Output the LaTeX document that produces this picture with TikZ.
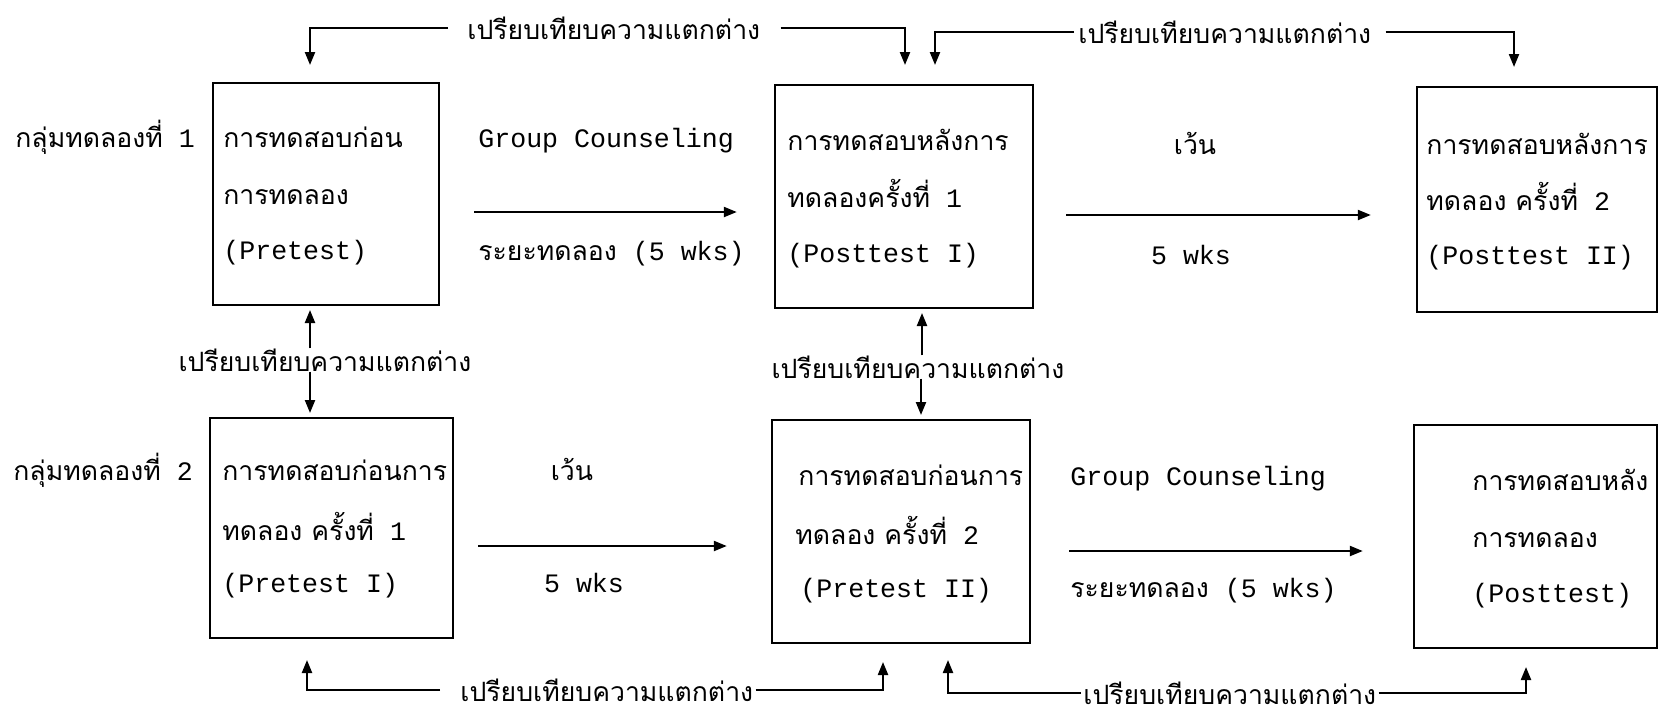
\documentclass[tikz,border=0pt]{standalone}
\usepackage{fontspec}
\setmainfont{Liberation Mono}
\newfontfamily\thaifont[Script=Thai]{Loma}
\usetikzlibrary{arrows.meta}
\newcommand{\T}[1]{{\thaifont #1}}
\begin{document}
\begin{tikzpicture}[x=0.5pt,y=-0.5pt,
  every node/.style={font=\fontsize{13.3pt}{16pt}\selectfont, inner sep=0pt},
  box/.style={draw, line width=1.2pt, rectangle},
  txt/.style={anchor=base west},
  ctxt/.style={anchor=base},
  cmp/.style={anchor=west},
  mid/.style={anchor=center},
  arr/.style={line width=1.1pt, -{Triangle[length=6.5pt,width=5pt]}}]
\useasboundingbox[fill=white] (0,0) rectangle (1659,718);

% boxes
\node[box, minimum width=113pt,   minimum height=111pt]   (A1) at (326,194) {};
\node[box, minimum width=129pt,   minimum height=111.5pt] (B1) at (904,196.5) {};
\node[box, minimum width=120pt,   minimum height=112.5pt] (C1) at (1537,199.5) {};
\node[box, minimum width=121.5pt, minimum height=110pt]   (A2) at (331.5,528) {};
\node[box, minimum width=129pt,   minimum height=111.5pt] (B2) at (901,531.5) {};
\node[box, minimum width=121.5pt, minimum height=111.5pt] (C2) at (1535.5,536.5) {};

% box texts
\node[txt] (A1a) at (223,147) {\T{การทดสอบก่อน}};
\node[txt] (A1b) at (223,204) {\T{การทดลอง}};
\node[txt] (A1c) at (223,259) {(Pretest)};
\node[txt] (B1a) at (787,150) {\T{การทดสอบหลังการ}};
\node[txt] (B1b) at (787,207) {\T{ทดลองครั้งที่} 1};
\node[txt] (B1c) at (787,262) {(Posttest I)};
\node[txt] (C1a) at (1426,154) {\T{การทดสอบหลังการ}};
\node[txt] (C1b) at (1426,210) {\T{ทดลอง ครั้งที่} 2};
\node[txt] (C1c) at (1426,264) {(Posttest II)};
\node[txt] (A2a) at (222,480) {\T{การทดสอบก่อนการ}};
\node[txt] (A2b) at (222,540) {\T{ทดลอง ครั้งที่} 1};
\node[txt] (A2c) at (222,592) {(Pretest I)};
\node[txt] (B2a) at (798,485) {\T{การทดสอบก่อนการ}};
\node[txt] (B2b) at (795,544) {\T{ทดลอง ครั้งที่} 2};
\node[txt] (B2c) at (800,597) {(Pretest II)};
\node[txt] (C2a) at (1472,490) {\T{การทดสอบหลัง}};
\node[txt] (C2b) at (1472,547) {\T{การทดลอง}};
\node[txt] (C2c) at (1472,602) {(Posttest)};

% row labels
\node[txt] (G1) at (15,147) {\T{กลุ่มทดลองที่} 1};
\node[txt] (G2) at (13,480) {\T{กลุ่มทดลองที่} 2};

% labels on horizontal arrows
\node[txt] (L1a) at (478,147) {Group Counseling};
\node[txt] (L1b) at (478,260) {\T{ระยะทดลอง} (5 wks)};
\node[ctxt] (L1c) at (1195,154) {\T{เว้น}};
\node[ctxt] (L1d) at (1191,264) {5 wks};
\node[ctxt] (L2a) at (572,480) {\T{เว้น}};
\node[ctxt] (L2b) at (584,592) {5 wks};
\node[txt] (L2c) at (1070,485) {Group Counseling};
\node[txt] (L2d) at (1070,597) {\T{ระยะทดลอง} (5 wks)};

% horizontal arrows
\coordinate (r1) at (0,212);
\coordinate (r2) at (0,215);
\coordinate (r3) at (0,546);
\coordinate (r4) at (0,551);
\draw[arr, shorten <=17pt, shorten >=18.5pt] (A1.east |- r1) -- (B1.west |- r1);
\draw[arr, shorten <=16pt, shorten >=22.5pt] (B1.east |- r2) -- (C1.west |- r2);
\draw[arr, shorten <=12pt, shorten >=22pt]   (A2.east |- r3) -- (B2.west |- r3);
\draw[arr, shorten <=19pt, shorten >=25pt]   (B2.east |- r4) -- (C2.west |- r4);

% top comparison brackets
\node[cmp] (T1) at (467,28) {\T{เปรียบเทียบความแตกต่าง}};
\node[cmp] (T2) at (1078,32) {\T{เปรียบเทียบความแตกต่าง}};
\coordinate (p1) at (310,65);
\coordinate (p2) at (905,65);
\coordinate (p3) at (935,65);
\coordinate (p4) at (1514,67);
\draw[arr] ([xshift=-9.5pt]T1.west) -| (p1);
\draw[arr] ([xshift=10pt]T1.east) -| (p2);
\draw[arr] ([xshift=-2pt]T2.west) -| (p3);
\draw[arr] ([xshift=7pt]T2.east) -| (p4);

% middle comparisons
\node[mid] (M1) at (325,360) {\T{เปรียบเทียบความแตกต่าง}};
\node[mid] (M2) at (918,367) {\T{เปรียบเทียบความแตกต่าง}};
\coordinate (m1u) at (310,310);
\coordinate (m1d) at (310,413);
\coordinate (m2u) at (922,313);
\coordinate (m2d) at (921,415);
\draw[arr] (M1.north -| m1u) -- (m1u);
\draw[arr] (M1.south -| m1d) -- (m1d);
\draw[arr] (M2.north -| m2u) -- (m2u);
\draw[arr] (M2.south -| m2d) -- (m2d);

% bottom comparison brackets
\node[cmp] (B1t) at (460,690) {\T{เปรียบเทียบความแตกต่าง}};
\node[cmp] (B2t) at (1083,693) {\T{เปรียบเทียบความแตกต่าง}};
\coordinate (s1) at (307,660);
\coordinate (s2) at (883,662);
\coordinate (s3) at (948,660);
\coordinate (s4) at (1526,667);
\draw[arr] ([xshift=-10pt]B1t.west) -| (s1);
\draw[arr] ([xshift=1pt]B1t.east) -| (s2);
\draw[arr] ([xshift=-1pt]B2t.west) -| (s3);
\draw[arr] ([xshift=1pt]B2t.east) -| (s4);
\end{tikzpicture}
\end{document}
